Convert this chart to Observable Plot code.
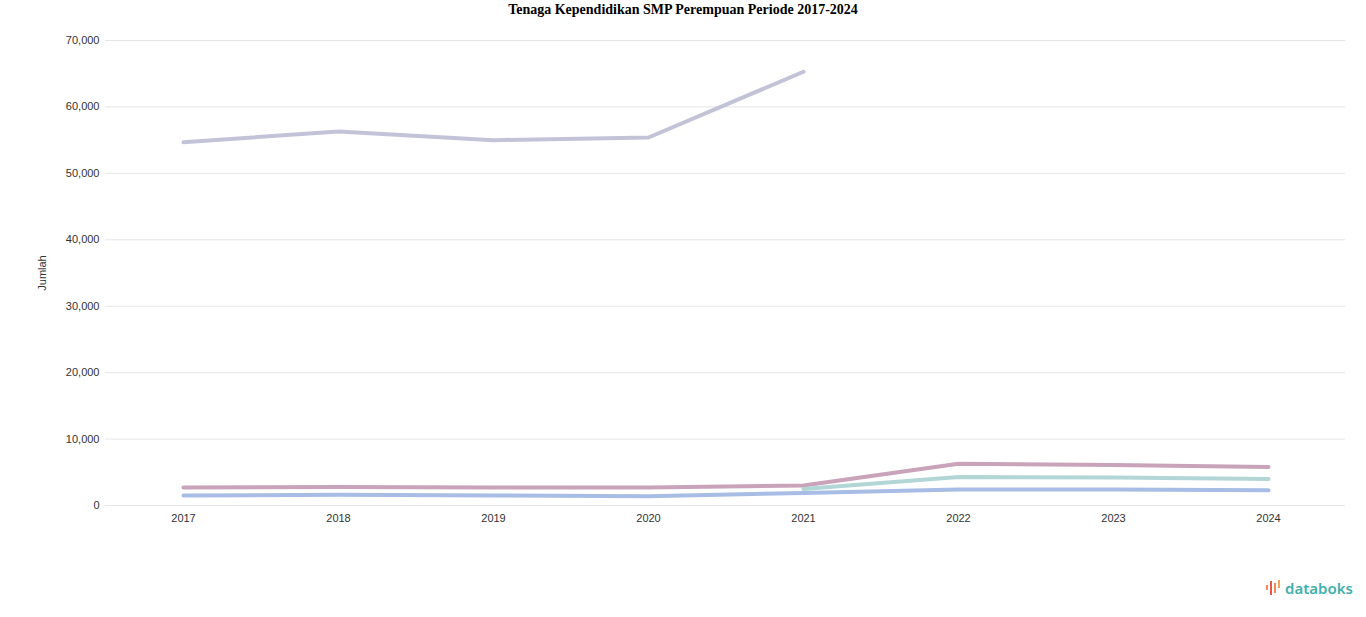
<!DOCTYPE html>
<html>
<head>
<meta charset="utf-8">
<script src="https://cdn.jsdelivr.net/npm/d3@7"></script>
<script src="https://cdn.jsdelivr.net/npm/@observablehq/plot@0.6"></script>
<style>
  html, body { margin: 0; padding: 0; background: #ffffff; }
  #title { font-family: "Liberation Serif", "Times New Roman", serif; font-weight: bold; font-size: 14px;
           text-align: center; height: 22px; line-height: 20px; color: #000; }
  #chart { width: 1366px; }
  #logo { position: absolute; left: 1265px; top: 578px; display: flex; align-items: center;
          font-family: "Noto Sans", "DejaVu Sans", sans-serif; font-size: 15px; font-weight: 600; color: #3fb0ac; }
</style>
</head>
<body>
<div id="title">Tenaga Kependidikan SMP Perempuan Periode 2017-2024</div>
<div id="chart"></div>
<div id="logo"><svg width="18" height="18" viewBox="0 0 18 18" style="margin-right:2px">
  <rect x="1" y="6" width="2" height="5" fill="#f28b55"/>
  <rect x="5" y="2" width="2" height="14" fill="#e8574a"/>
  <rect x="9" y="4" width="2" height="10" fill="#f28b55"/>
  <rect x="13" y="1" width="2" height="8" fill="#f5a25c"/>
</svg>databoks</div>
<script>
const years = ["2017", "2018", "2019", "2020", "2021", "2022", "2023", "2024"];
const seriesNames = ["Total", "Non PNS", "Honorer", "PNS"];
const totalValues  = [54700, 56300, 55000, 55400, 65300, null, null, null];
const nonPnsValues = [2700, 2800, 2700, 2700, 3000, 6300, 6100, 5800];
const honorValues  = [null, null, null, null, 2500, 4300, 4200, 4000];
const pnsValues    = [1500, 1600, 1500, 1400, 1900, 2400, 2400, 2300];
const yTicks = [0, 10000, 20000, 30000, 40000, 50000, 60000, 70000];
const colors = ["#c3c3d8", "#c9a3b9", "#b2d6d6", "#a7bde6"];

const allValues = [totalValues, nonPnsValues, honorValues, pnsValues];
const rows = [];
seriesNames.forEach((name, si) => {
  years.forEach((yr, i) => {
    rows.push({series: name, year: yr, value: allValues[si][i]});
  });
});

const fmt = d3.format(",");
const chart = Plot.plot({
  width: 1366,
  height: 538,
  marginTop: 18,
  marginBottom: 55,
  marginLeft: 105,
  marginRight: 21,
  style: {fontFamily: "Liberation Sans, Arial, sans-serif", fontSize: "11px", color: "#333"},
  x: {type: "point", domain: years, padding: 0.5, label: null, tickSize: 0, tickPadding: 9},
  y: {domain: [0, 70000], ticks: yTicks, tickFormat: fmt, label: "Jumlah", labelAnchor: "center",
      labelOffset: 67, tickSize: 0, tickPadding: 6},
  color: {domain: seriesNames, range: colors},
  marks: [
    Plot.gridY(yTicks, {stroke: "#e6e6e6", strokeOpacity: 1}),
    Plot.axisY({ticks: yTicks, tickFormat: fmt, tickSize: 0, tickPadding: 6, label: "Jumlah",
                labelAnchor: "center", labelArrow: "none", labelOffset: 67, fill: "#333"}),
    Plot.axisX({tickSize: 0, tickPadding: 9, label: null, fill: "#333"}),
    Plot.line(rows, {x: "year", y: "value", z: "series", stroke: "series", strokeWidth: 4,
                     curve: "linear", strokeLinecap: "round", strokeLinejoin: "round"})
  ]
});
document.getElementById("chart").appendChild(chart);
</script>
</body>
</html>
